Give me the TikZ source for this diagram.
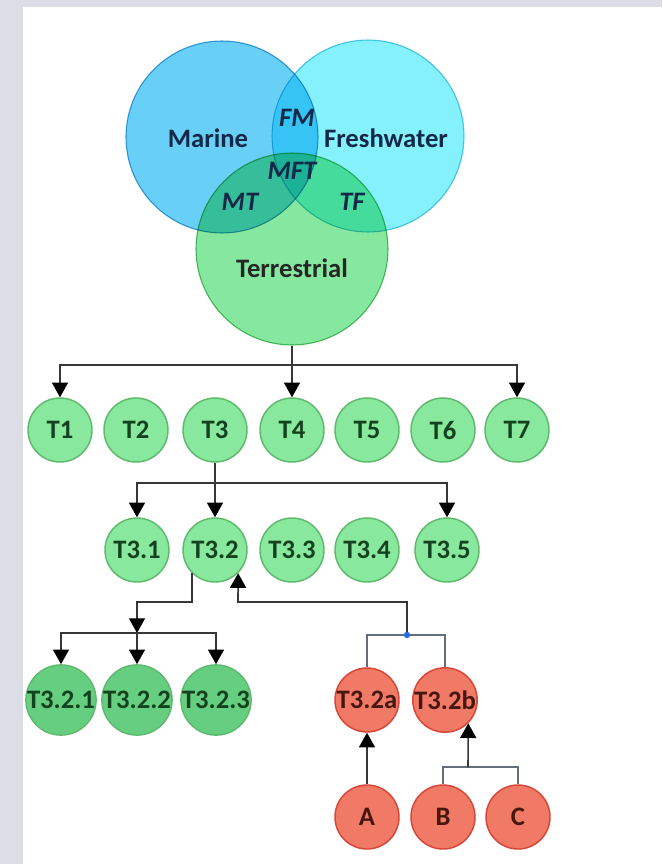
\documentclass[tikz,border=0pt]{standalone}
\usepackage{fontspec}
\setmainfont{Carlito}
\usetikzlibrary{arrows.meta, calc}

\definecolor{framegray}{RGB}{221,221,232}
\definecolor{marineblue}{RGB}{104,208,247}
\definecolor{freshcyan}{RGB}{132,241,252}
\definecolor{terrgreen}{RGB}{134,232,158}
\definecolor{marineedge}{RGB}{75,165,215}
\definecolor{freshedge}{RGB}{95,200,230}
\definecolor{terredge}{RGB}{90,190,110}
\definecolor{navytext}{RGB}{20,40,72}
\definecolor{nodegreen}{RGB}{136,232,158}
\definecolor{deepgreen}{RGB}{102,206,128}
\definecolor{greenedge}{RGB}{95,185,110}
\definecolor{greentext}{RGB}{20,66,30}
\definecolor{nodered}{RGB}{240,122,102}
\definecolor{rededge}{RGB}{215,70,55}
\definecolor{redtext}{RGB}{70,22,15}
\definecolor{treegray}{RGB}{55,55,55}
\definecolor{linkgray}{RGB}{100,110,122}
\definecolor{dotblue}{RGB}{40,105,230}

\begin{document}
\begin{tikzpicture}[x=0.75pt, y=-0.75pt,
  >={Triangle[width=12pt,length=11pt,color=black]},
  venn/.style={circle, minimum size=144pt, inner sep=0pt, line width=0.8pt},
  vlabel/.style={font=\bfseries\fontsize{20}{22}\selectfont, text=navytext},
  object/.style={circle, draw=greenedge, fill=nodegreen, line width=1.1pt,
    minimum size=48pt, inner sep=0pt, text=greentext,
    font=\bfseries\fontsize{20}{22}\selectfont},
  deepobject/.style={object, fill=deepgreen},
  redobject/.style={object, draw=rededge, fill=nodered, text=redtext},
  arrow/.style={->, draw=treegray, line width=1.2pt},
  link/.style={draw=linkgray, line width=1.2pt}
]

  % Page frame
  \useasboundingbox (0,0) rectangle (662,864);
  \fill[white] (0,0) rectangle (662,864);
  \fill[framegray] (0,0) rectangle (23,864);
  \fill[framegray] (0,0) rectangle (662,7);

  % Venn circles
  \begin{scope}[blend mode=multiply]
    \node[venn, fill=marineblue, draw=marineedge] (marine) at (222,137) {};
    \node[venn, fill=freshcyan, draw=freshedge] (fresh) at (368,136) {};
    \node[venn, fill=terrgreen, draw=terredge] (terr) at (292,249) {};
  \end{scope}

  % Venn labels
  \node[vlabel] (marinetxt) at (208,138) {Marine};
  \node[vlabel] (freshtxt) at (386,138) {Freshwater};
  \node[vlabel, text=black!85] (terrtxt) at (292,268) {Terrestrial};
  \node[vlabel] (fm) at (297,118) {\itshape FM};
  \node[vlabel] (mft) at (292,171) {\itshape MFT};
  \node[vlabel] (mt) at (240,202) {\itshape MT};
  \node[vlabel] (tf) at (352,202) {\itshape TF};

  % Nodes for the first level
  \node[object] (T1) at (60,430) {T1};
  \node[object] (T2) at (136,430) {T2};
  \node[object] (T3) at (215,430) {T3};
  \node[object] (T4) at (292,430) {T4};
  \node[object] (T5) at (367,430) {T5};
  \node[object] (T6) at (443,430) {T6};
  \node[object] (T7) at (517,430) {T7};

  % Nodes for the second level
  \node[object] (T31) at (137,550) {T3.1};
  \node[object] (T32) at (215,550) {T3.2};
  \node[object] (T33) at (292,550) {T3.3};
  \node[object] (T34) at (367,550) {T3.4};
  \node[object] (T35) at (447,550) {T3.5};

  % Nodes for the third level
  \node[deepobject] (T321) at (61,700) {T3.2.1};
  \node[deepobject] (T322) at (137,700) {T3.2.2};
  \node[deepobject] (T323) at (216,700) {T3.2.3};
  \node[redobject] (T32a) at (367,700) {T3.2a};
  \node[redobject] (T32b) at (445,700) {T3.2b};

  % Red leaves
  \node[redobject] (A) at (367,817) {A};
  \node[redobject] (B) at (443,817) {B};
  \node[redobject] (C) at (518,817) {C};

  % Helper coordinates for the bends
  \coordinate (tbar) at (292,365);
  \coordinate (t3bar) at (215,483);
  \coordinate (t32turn) at (137,602);
  \coordinate (t32bar) at (137,633);
  \coordinate (junct) at (407,635);
  \coordinate (ret) at (238,602);
  \coordinate (bcbar) at (468,767);

  % Terrestrial to first level
  \draw[treegray, line width=1.2pt] (terr) -- (tbar);
  \draw[arrow] (tbar) -| (T1);
  \draw[arrow] (tbar) -- (T4);
  \draw[arrow] (tbar) -| (T7);

  % T3 to second level
  \draw[treegray, line width=1.2pt] (T3) -- (t3bar);
  \draw[arrow] (t3bar) -| (T31);
  \draw[arrow] (t3bar) -- (T32);
  \draw[arrow] (t3bar) -| (T35);

  % T3.2 to third level
  \draw[arrow] (T32.south west) |- (t32turn) -- (t32bar);
  \draw[arrow] (t32bar) -| (T321);
  \draw[arrow] (t32bar) -- (T322);
  \draw[arrow] (t32bar) -| (T323);

  % Red branch back to T3.2
  \draw[link] (T32a) |- (junct) -| (T32b);
  \draw[arrow] (junct) |- (ret) -- (T32.south east);
  \fill[dotblue] (junct) circle[radius=2.4pt];

  % Leaves to red nodes
  \draw[arrow] (A) -- (T32a);
  \draw[link] (B) |- (bcbar);
  \draw[link] (C) |- (bcbar);
  \draw[arrow] (bcbar) -- (T32b.-45);

\end{tikzpicture}
\end{document}
